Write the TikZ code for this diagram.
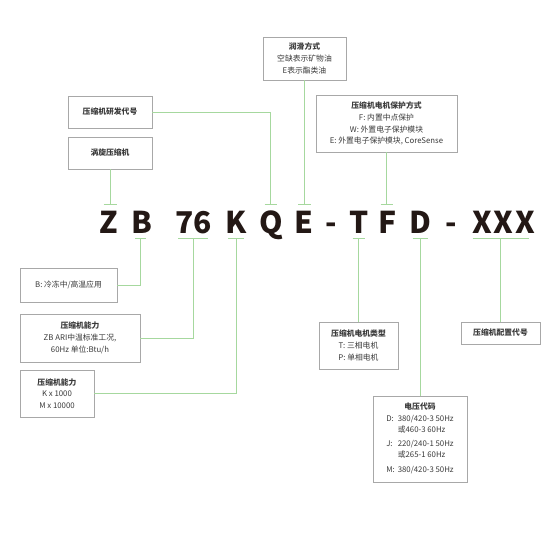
\documentclass[tikz,border=0pt]{standalone}
\usepackage{fontspec}
\setmainfont{Noto Sans CJK SC}
\definecolor{boxgray}{HTML}{A8A8A8}
\definecolor{lgreen}{HTML}{A6D89E}
\definecolor{ink}{HTML}{231815}
\definecolor{txtgray}{HTML}{3A3A3A}
\begin{document}
\begin{tikzpicture}[x=1pt,y=-1pt,
  box/.style={draw=boxgray, line width=0.8pt, fill=white, inner sep=0pt, align=center,
    font=\fontsize{7.8}{11.7}\selectfont, text=txtgray},
  conn/.style={draw=lgreen, line width=0.9pt},
  letter/.style={font=\fontsize{30}{30}\selectfont\bfseries, text=ink, anchor=base, inner sep=0pt},
]
\useasboundingbox[fill=white] (0,0) rectangle (560,560);

% code letters
\node[letter] (Z)  at (109,233) {Z};
\node[letter] (B)  at (142,233) {B};
\node[letter] (S6) at (193.5,233) {76};
\node[letter] (K)  at (236.5,233) {K};
\node[letter] (Q)  at (271,233) {Q};
\node[letter] (E)  at (303.5,233) {E};
\node[letter] (D1) at (331,233) {-};
\node[letter] (T)  at (359,233) {T};
\node[letter] (F)  at (388,233) {F};
\node[letter] (D)  at (420,233) {D};
\node[letter] (D2) at (451,233) {-};
\node[letter] (X1) at (482,233) {X};
\node[letter] (X2) at (503.5,233) {X};
\node[letter] (X3) at (525,233) {X};

% tick coordinates
\coordinate (tZ) at (110,204);
\coordinate (tQ) at (270.5,204);
\coordinate (tE) at (304.5,204);
\coordinate (tF) at (386.5,204);
\coordinate (tB) at (140.5,238);
\coordinate (t76) at (193,238);
\coordinate (tK) at (236,238);
\coordinate (tT) at (358.5,238);
\coordinate (tD) at (420,238);
\coordinate (tX) at (500.5,238);

% tick bars
\draw[conn] ([xshift=-6.5pt]tZ) -- ([xshift=6.5pt]tZ);
\draw[conn] ([xshift=-6pt]tQ) -- ([xshift=6pt]tQ);
\draw[conn] ([xshift=-6.5pt]tE) -- ([xshift=6.5pt]tE);
\draw[conn] ([xshift=-6pt]tF) -- ([xshift=6pt]tF);
\draw[conn] ([xshift=-5.5pt]tB) -- ([xshift=5.5pt]tB);
\draw[conn] ([xshift=-15pt]t76) -- ([xshift=15pt]t76);
\draw[conn] ([xshift=-8pt]tK) -- ([xshift=8pt]tK);
\draw[conn] ([xshift=-6pt]tT) -- ([xshift=6pt]tT);
\draw[conn] ([xshift=-7.5pt]tD) -- ([xshift=7.5pt]tD);
\draw[conn] ([xshift=-28pt]tX) -- ([xshift=28pt]tX);

% boxes
\node[box, minimum width=83pt, minimum height=43pt] (lube) at (304.5,58.5)
  {{\bfseries 润滑方式}\\空缺表示矿物油\\E表示酯类油};
\node[box, minimum width=84pt, minimum height=32pt] (dev) at (110,112)
  {\bfseries 压缩机研发代号};
\node[box, minimum width=84pt, minimum height=32pt] (scroll) at (110,153)
  {\bfseries 涡旋压缩机};
\node[box, minimum width=141pt, minimum height=57pt] (prot) at (386.5,123.5)
  {{\bfseries 压缩机电机保护方式}\\F: 内置中点保护\\W: 外置电子保护模块\\E: 外置电子保护模块, CoreSense};
\node[box, minimum width=97pt, minimum height=34pt] (app) at (68.5,285)
  {B: 冷冻中/高温应用};
\node[box, minimum width=120pt, minimum height=48pt] (cap1) at (80,338)
  {{\bfseries 压缩机能力}\\ZB ARI中温标准工况,\\60Hz 单位:Btu/h};
\node[box, minimum width=74pt, minimum height=47pt] (cap2) at (57,393.5)
  {{\bfseries 压缩机能力}\\K x 1000\\M x 10000};
\node[box, minimum width=79pt, minimum height=47pt] (motor) at (358.5,345.5)
  {{\bfseries 压缩机电机类型}\\T: 三相电机\\P: 单相电机};
\node[box, minimum width=79pt, minimum height=22pt] (cfg) at (500.5,333)
  {\bfseries 压缩机配置代号};
\node[box, minimum width=94pt, minimum height=86pt] (volt) at (420,439)
  {{\bfseries 电压代码}\\[2.5pt]
   \begin{tabular}{@{}l@{\hspace{3pt}}l@{}}
   D: & 380/420-3 50Hz\\[-1.2pt]
      & 或460-3 60Hz\\[3pt]
   J: & 220/240-1 50Hz\\[-1.2pt]
      & 或265-1 60Hz\\[3pt]
   M: & 380/420-3 50Hz
   \end{tabular}};

% connectors
\draw[conn] (dev.east) -| (tQ);
\draw[conn] (scroll.south) -- (tZ);
\draw[conn] (lube.south) -- (tE);
\draw[conn] (prot.south) -- (tF);
\draw[conn] (app.east) -| (tB);
\draw[conn] (cap1.east) -| (t76);
\draw[conn] (cap2.east) -| (tK);
\draw[conn] (motor.north) -- (tT);
\draw[conn] (volt.north) -- (tD);
\draw[conn] (cfg.north) -- (tX);
\end{tikzpicture}
\end{document}
